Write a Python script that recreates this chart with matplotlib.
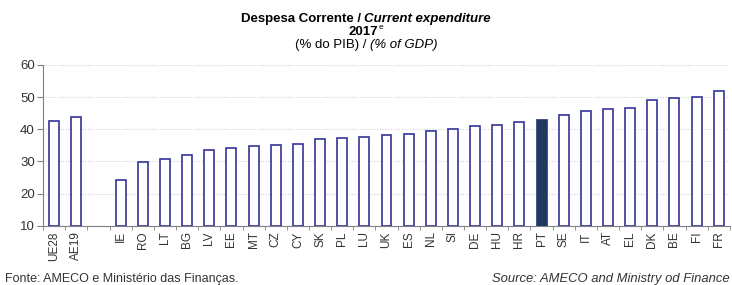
import numpy as np
import matplotlib.pyplot as plt

plt.rcParams['font.family'] = ['Liberation Sans', 'DejaVu Sans']

# categories (blank slot separates the aggregates from the countries)
countries = ["UE28", "AE19", "", "IE", "RO", "LT", "BG", "LV", "EE", "MT", "CZ",
             "CY", "SK", "PL", "LU", "UK", "ES", "NL", "SI", "DE", "HU", "HR",
             "PT", "SE", "IT", "AT", "EL", "DK", "BE", "FI", "FR"]
values = [42.5, 43.8, np.nan, 24.3, 29.9, 30.7, 32.0, 33.7, 34.2, 34.8, 35.2,
          35.4, 37.0, 37.2, 37.7, 38.1, 38.5, 39.4, 40.1, 41.0, 41.2, 42.2,
          42.8, 44.4, 45.7, 46.2, 46.5, 49.1, 49.6, 50.1, 51.9]
highlight = "PT"

edge = "#33339A"
fills = ["#1F3864" if c == highlight else "white" for c in countries]
edges = ["#1F3864" if c == highlight else edge for c in countries]

fig = plt.figure(figsize=(7.32, 2.85), dpi=100)
ax = fig.add_axes([0.059, 0.208, 0.938, 0.564])

x = np.arange(len(countries))
heights = [v - 10 for v in values]
ax.bar(x, heights, bottom=10, width=0.45, color=fills, edgecolor=edges, linewidth=1.2, zorder=3)

ax.set_ylim(10, 60)
ax.set_yticks([10, 20, 30, 40, 50, 60])
ax.set_xlim(-0.5, len(countries) - 0.5)
ax.set_xticks(x)
ax.set_xticklabels(countries, rotation=90, fontsize=8.5, color="#333333")
ax.tick_params(axis="x", length=0, pad=4)
ax.set_xticks(np.arange(len(countries) + 1) - 0.5, minor=True)
ax.tick_params(axis="x", which="minor", length=3, color="#808080", direction="out")
ax.tick_params(axis="y", labelsize=9.5, length=4, color="#808080", direction="out", pad=2, labelcolor="#333333")

ax.yaxis.grid(True, linestyle=(0, (1, 1.5)), color="#d0d0d0", linewidth=0.8, zorder=0)
for s in ["top", "right"]:
    ax.spines[s].set_visible(False)
ax.spines["left"].set_color("#808080")
ax.spines["bottom"].set_color("#808080")


def mixed_line(y, parts, size=9):
    # parts: list of (text, weight, style, fontsize); drawn side by side, centred
    renderer = fig.canvas.get_renderer()
    texts = []
    for s, w, st, fs in parts:
        t = fig.text(0, y, s, fontsize=fs, fontweight=w, style=st, ha="left", va="baseline")
        texts.append(t)
    widths = [t.get_window_extent(renderer).width for t in texts]
    total = sum(widths)
    x0 = (fig.bbox.width - total) / 2
    for t, wd in zip(texts, widths):
        t.set_x(x0 / fig.bbox.width)
        x0 += wd
    return texts


mixed_line(0.923, [("Despesa Corrente / ", "bold", "normal", 9.5),
                   ("Current expenditure", "bold", "italic", 9.5)])
t1, t2 = mixed_line(0.877, [("2017", "bold", "normal", 9.5), ("e", "normal", "normal", 6)])
t2.set_y(0.897)
mixed_line(0.83, [("(% do PIB) / ", "normal", "normal", 9.5),
                  ("(% of GDP)", "normal", "italic", 9.5)])

fig.text(0.007, 0.012, "Fonte: AMECO e Ministério das Finanças.", fontsize=9, color="#333333")
fig.text(0.997, 0.012, "Source: AMECO and Ministry od Finance", fontsize=9.4,
         style="italic", ha="right", color="#333333")

fig.savefig("out.png", dpi=100)
